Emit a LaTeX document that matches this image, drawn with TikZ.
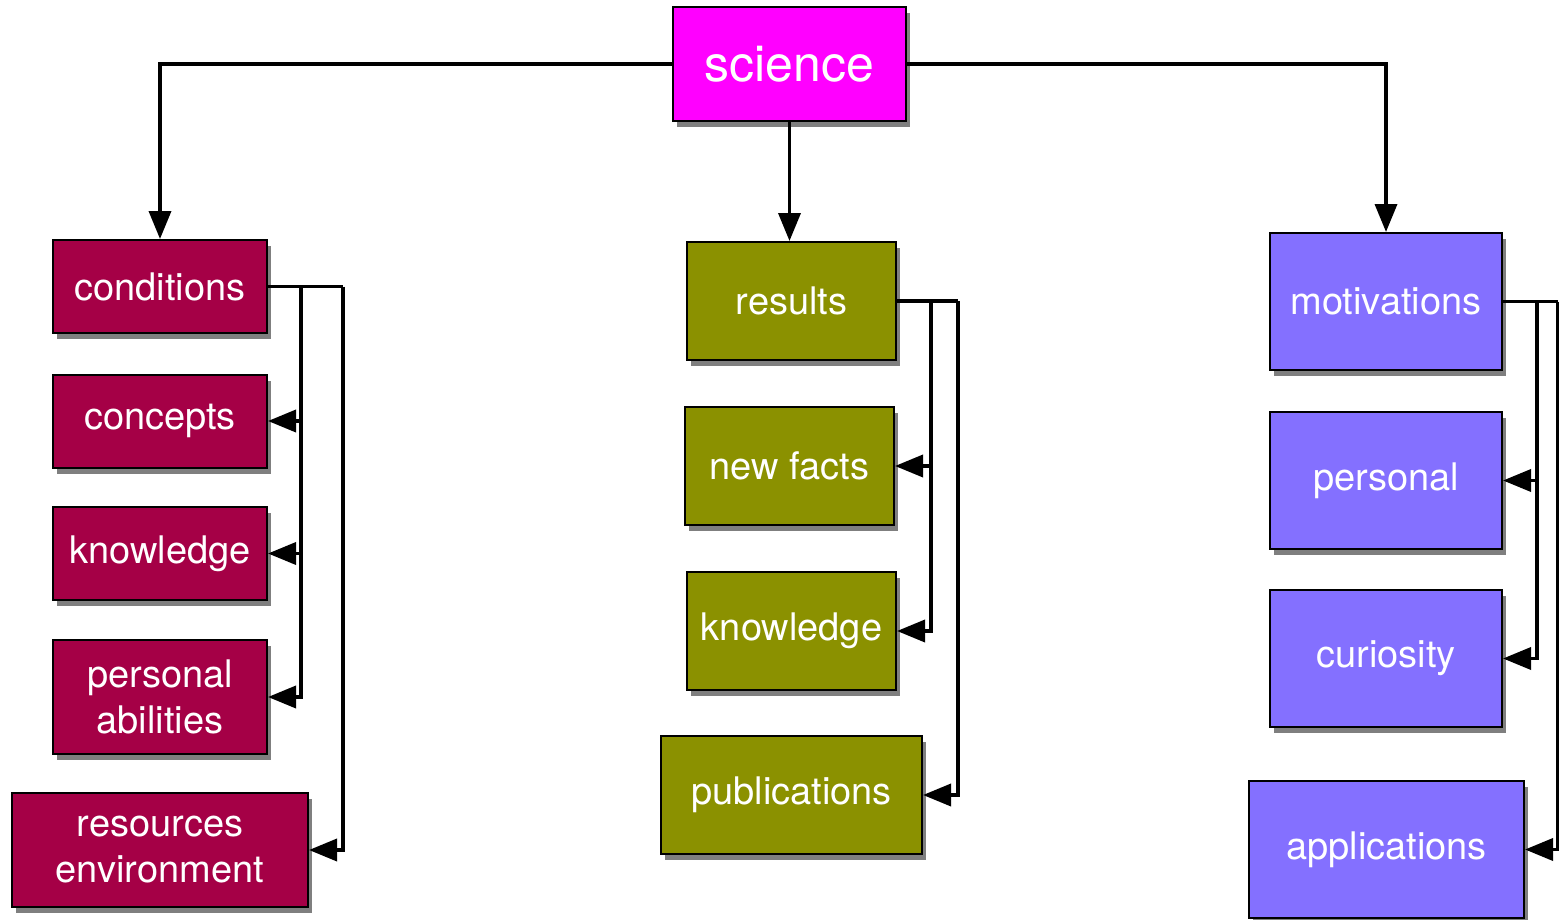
\documentclass[tikz,border=0pt]{standalone}
\usepackage{fontspec}
\setmainfont{TeX Gyre Heros}
\usetikzlibrary{arrows.meta,shadows,calc}
\definecolor{crimson}{RGB}{165,0,70}
\definecolor{olive}{RGB}{139,145,0}
\definecolor{lavender}{RGB}{132,112,255}
\definecolor{pinkish}{RGB}{255,0,255}
\begin{document}
\begin{tikzpicture}[x=0.5pt, y=-0.5pt, line width=1.8pt,
    box/.style={draw=black, line width=1pt, text=white, align=center,
      font=\fontsize{19}{23}\selectfont, inner sep=0pt,
      drop shadow={shadow xshift=2pt, shadow yshift=-3pt, opacity=0.5, fill=black}},
    cond/.style={box, fill=crimson, minimum height=46.5pt},
    res/.style={box, fill=olive, minimum height=59pt},
    mot/.style={box, fill=lavender, minimum height=68.5pt},
    link/.style={-{Triangle[length=14pt, width=11pt]}}]
  \useasboundingbox (0,0) rectangle (1559,920);
  % top
  \node[box, fill=pinkish, minimum width=116.5pt, minimum height=57pt,
    font=\fontsize{25}{30}\selectfont] (science) at (789.5,64) {science};
  % left column
  \node[cond, minimum width=107pt] (conditions) at (160,286.5) {conditions};
  \node[cond, minimum width=107pt] (concepts) at (160,421) {concepts};
  \node[cond, minimum width=107pt] (knowledgeL) at (160,553.5) {knowledge};
  \node[cond, minimum width=107pt, minimum height=57pt] (abilities) at (160,697) {personal\\abilities};
  \node[cond, minimum width=148pt, minimum height=57pt] (resources) at (160,850) {resources\\environment};
  % middle column
  \node[res, minimum width=104.5pt] (results) at (791.5,301) {results};
  \node[res, minimum width=104.5pt] (newfacts) at (789.5,466) {new facts};
  \node[res, minimum width=104.5pt] (knowledgeM) at (791.5,631) {knowledge};
  \node[res, minimum width=130.5pt] (publications) at (791.5,795) {publications};
  % right column
  \node[mot, minimum width=116pt] (motivations) at (1386,301.5) {motivations};
  \node[mot, minimum width=116pt] (personal) at (1386,480.5) {personal};
  \node[mot, minimum width=116pt] (curiosity) at (1386,658.5) {curiosity};
  \node[mot, minimum width=137.5pt] (applications) at (1386.5,849.5) {applications};
  % from science
  \draw[link] (science.west) -| (conditions.north);
  \draw[link] (science.south) -- (science.south |- results.north);
  \draw[link] (science.east) -| (motivations.north);
  % left buses
  \coordinate (cin) at ($(conditions.east)+(33,0)$);
  \coordinate (cout) at ($(conditions.east)+(75,0)$);
  \draw (conditions.east) -- (cout);
  \draw[link] (cin) |- (concepts.east);
  \draw[link] (cin) |- (knowledgeL.east);
  \draw[link] (cin) |- (abilities.east);
  \draw[link] (cout) |- (resources.east);
  % middle buses
  \coordinate (rin) at ($(results.east)+(34,0)$);
  \coordinate (rout) at ($(results.east)+(61,0)$);
  \draw (results.east) -- (rout);
  \draw[link] (rin) |- (newfacts.east);
  \draw[link] (rin) |- (knowledgeM.east);
  \draw[link] (rout) |- (publications.east);
  % right buses
  \coordinate (min) at ($(motivations.east)+(34,0)$);
  \coordinate (mout) at ($(motivations.east)+(55,0)$);
  \draw (motivations.east) -- (mout);
  \draw[link] (min) |- (personal.east);
  \draw[link] (min) |- (curiosity.east);
  \draw[link] (mout) |- (applications.east);
\end{tikzpicture}
\end{document}
